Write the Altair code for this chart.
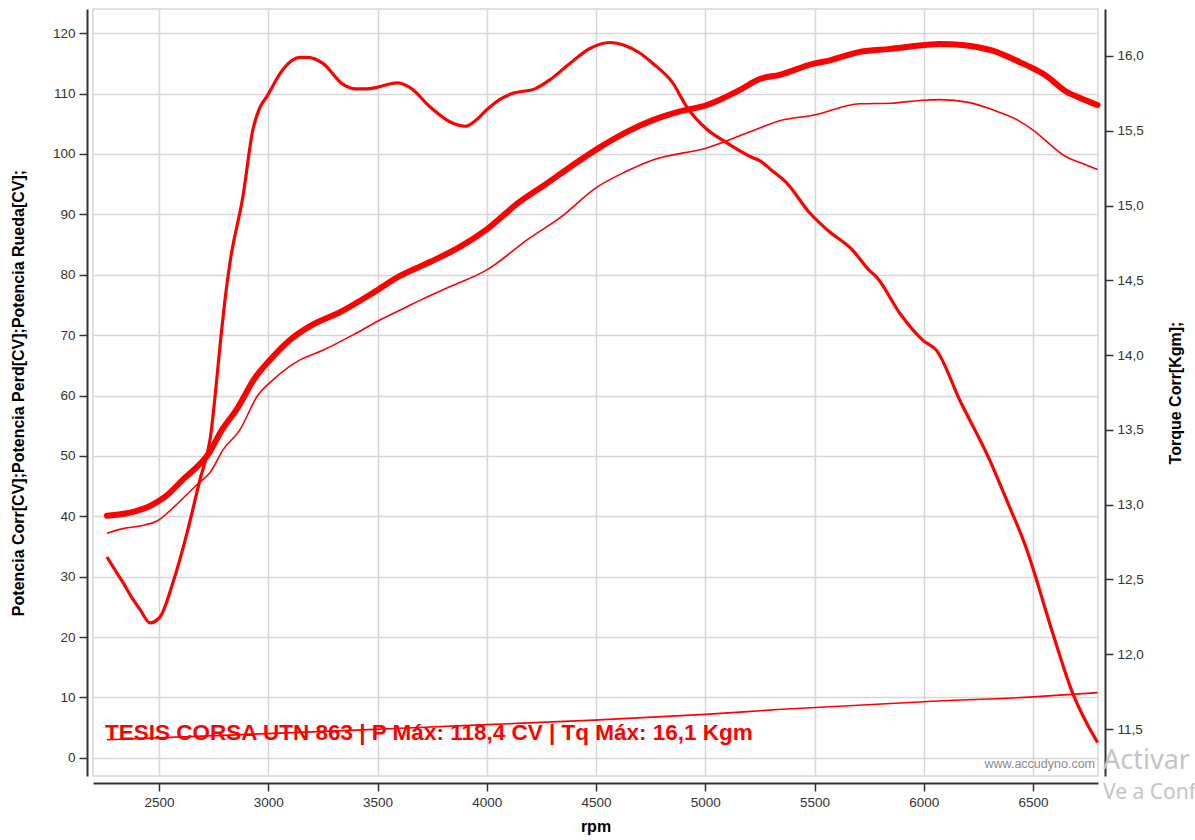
import altair as alt
import pandas as pd

# ---------------- data ----------------
rpm_corr = [2262, 2367, 2459, 2527, 2619, 2688, 2720, 2788, 2857, 2939, 3008, 3099, 3191, 3328,
            3488, 3602, 3740, 3877, 4000, 4151, 4266, 4380, 4504, 4632, 4760, 4880, 5007, 5158,
            5249, 5341, 5492, 5570, 5707, 5844, 5995, 6073, 6187, 6315, 6439, 6498, 6553, 6653,
            6720, 6795]
pot_corr = [40.1, 40.6, 41.7, 43.2, 46.4, 48.7, 50.0, 54.3, 57.8, 62.9, 65.9, 69.2, 71.5, 73.8,
            77.2, 79.8, 82.1, 84.6, 87.5, 92.1, 94.9, 97.8, 100.8, 103.5, 105.6, 107.0, 108.1, 110.6,
            112.4, 113.1, 114.9, 115.5, 116.9, 117.4, 118.0, 118.2, 118.0, 117.1, 115.2, 114.2, 113.1, 110.3,
            109.2, 108.1]

rpm_rueda = [2262, 2340, 2413, 2495, 2570, 2650, 2688, 2733, 2793, 2870, 2948, 3022, 3145, 3250,
             3406, 3511, 3635, 3708, 3831, 4000, 4197, 4334, 4504, 4632, 4760, 5007, 5249, 5341,
             5492, 5707, 5850, 5995, 6073, 6210, 6315, 6430, 6498, 6653, 6720, 6795]
pot_rueda = [37.2, 38.0, 38.4, 39.3, 41.6, 44.4, 45.7, 47.2, 51.0, 54.3, 59.8, 62.6, 65.9, 67.5,
             70.4, 72.5, 74.7, 76.0, 78.0, 80.8, 86.1, 89.4, 94.5, 97.0, 99.0, 101.0, 104.3, 105.5,
             106.4, 108.3, 108.4, 108.9, 109.0, 108.5, 107.3, 105.6, 104.0, 99.5, 98.5, 97.4]

rpm_perd = [2262, 2700, 3200, 3602, 4000, 4517, 5000, 5332, 6000, 6500, 6795]
pot_perd = [3.0, 3.6, 4.3, 4.9, 5.5, 6.3, 7.2, 8.0, 9.3, 10.1, 10.8]

rpm_torque = [2262, 2300, 2335, 2375, 2413, 2459, 2505, 2564, 2628, 2688, 2733, 2787, 2802, 2825,
              2884, 2930, 2960, 2994, 3067, 3145, 3180, 3250, 3342, 3400, 3451, 3497, 3589, 3648,
              3740, 3831, 3900, 3950, 4000, 4060, 4119, 4220, 4288, 4380, 4472, 4563, 4632, 4700,
              4760, 4851, 4915, 5007, 5098, 5217, 5249, 5300, 5373, 5478, 5556, 5675, 5748, 5785,
              5890, 5995, 6059, 6164, 6301, 6379, 6471, 6498, 6590, 6681, 6745, 6795]
torque = [12.65, 12.56, 12.48, 12.38, 12.30, 12.21, 12.25, 12.48, 12.81, 13.17, 13.43, 14.17, 14.37, 14.62,
          15.06, 15.51, 15.65, 15.73, 15.91, 15.99, 15.99, 15.95, 15.81, 15.78, 15.78, 15.79, 15.82, 15.79,
          15.66, 15.56, 15.53, 15.57, 15.64, 15.71, 15.75, 15.78, 15.84, 15.95, 16.05, 16.09, 16.07, 16.02,
          15.95, 15.82, 15.66, 15.51, 15.42, 15.32, 15.30, 15.24, 15.15, 14.95, 14.84, 14.70, 14.57, 14.52,
          14.28, 14.10, 14.03, 13.70, 13.30, 13.03, 12.70, 12.58, 12.14, 11.74, 11.54, 11.41]

x_ticks = [2500, 3000, 3500, 4000, 4500, 5000, 5500, 6000, 6500]
left_ticks = [0, 10, 20, 30, 40, 50, 60, 70, 80, 90, 100, 110, 120]
right_ticks = [11.5, 12.0, 12.5, 13.0, 13.5, 14.0, 14.5, 15.0, 15.5, 16.0]

annotation = ["TESIS CORSA UTN 863 | P Máx: 118,4 CV | Tq Máx: 16,1 Kgm"]
watermark = ["www.accudyno.com"]
activar = ["Activar"]
ve_a_conf = ["Ve a Conf"]

# ---------------- styling ----------------
FONT = "Liberation Sans"
RED = "#ff0000"
AXIS_COLOR = "#333333"

x_scale = alt.Scale(domain=[2198, 6797], nice=False, zero=False)
y_left_scale = alt.Scale(domain=[-3, 124], nice=False, zero=False)
y_right_scale = alt.Scale(domain=[11.186, 16.314], nice=False, zero=False)

common_axis = dict(
    domainColor=AXIS_COLOR, domainWidth=2, tickColor=AXIS_COLOR, tickWidth=1.5,
    labelColor=AXIS_COLOR, labelFont=FONT, labelFontSize=13.5,
    titleFont=FONT, titleFontSize=16, titleFontWeight="bold", titleColor="#000000",
    gridColor="#d6d6d6", gridWidth=1.5,
)

x_axis = alt.Axis(title="rpm", values=x_ticks, format="d", offset=7, tickSize=8,
                  labelPadding=4, titlePadding=10, **common_axis)
left_axis = alt.Axis(title="Potencia Corr[CV];Potencia Perd[CV];Potencia Rueda[CV];",
                     values=left_ticks, offset=6, tickSize=8, labelPadding=4,
                     titlePadding=26, **common_axis)
right_axis = alt.Axis(title="Torque Corr[Kgm];", orient="right", values=right_ticks,
                      labelExpr="replace(format(datum.value, '.1f'), '.', ',')",
                      offset=7, tickSize=8, labelPadding=4, grid=False,
                      titleAngle=270, titleBaseline="top", titlePadding=24, **common_axis)

df_corr = pd.DataFrame({"rpm": rpm_corr, "val": pot_corr})
df_rueda = pd.DataFrame({"rpm": rpm_rueda, "val": pot_rueda})
df_perd = pd.DataFrame({"rpm": rpm_perd, "val": pot_perd})
df_torque = pd.DataFrame({"rpm": rpm_torque, "val": torque})

X = alt.X("rpm:Q", scale=x_scale, axis=x_axis)
Y_left = alt.Y("val:Q", scale=y_left_scale, axis=left_axis)

corr = alt.Chart(df_corr).mark_line(color=RED, strokeWidth=6, strokeCap="round",
                                    interpolate="monotone").encode(x=X, y=Y_left)
rueda = alt.Chart(df_rueda).mark_line(color=RED, strokeWidth=1.6,
                                      interpolate="monotone").encode(x=X, y=Y_left)
perd = alt.Chart(df_perd).mark_line(color=RED, strokeWidth=1.6,
                                    interpolate="monotone").encode(x=X, y=Y_left)

txt = alt.Chart(pd.DataFrame({"t": annotation})).mark_text(
    color=RED, font=FONT, fontSize=22.5, fontWeight="bold", align="left", baseline="alphabetic"
).encode(x=alt.value(12), y=alt.value(731), text="t:N")

wm = alt.Chart(pd.DataFrame({"t": watermark})).mark_text(
    color="#8a8a8a", font=FONT, fontSize=12.5, align="right", baseline="alphabetic"
).encode(x=alt.value(1002), y=alt.value(759), text="t:N")

act = alt.Chart(pd.DataFrame({"t": activar})).mark_text(
    color="#c4c4c4", font="Noto Sans", fontSize=27, align="left", baseline="alphabetic"
).encode(x=alt.value(1010), y=alt.value(760), text="t:N")

conf = alt.Chart(pd.DataFrame({"t": ve_a_conf})).mark_text(
    color="#c4c4c4", font="Noto Sans", fontSize=21, align="left", baseline="alphabetic"
).encode(x=alt.value(1010), y=alt.value(790), text="t:N")

left_layer = alt.layer(corr, rueda, perd, txt, wm, act, conf)

torque_line = alt.Chart(df_torque).mark_line(color=RED, strokeWidth=3.2,
                                             interpolate="monotone").encode(
    x=X, y=alt.Y("val:Q", scale=y_right_scale, axis=right_axis))

chart = alt.layer(left_layer, torque_line).resolve_scale(y="independent").properties(
    width=1005, height=767,
    autosize=alt.AutoSizeParams(type="none"),
    padding={"left": 93, "top": 9, "right": 97, "bottom": 64},
    background="white",
).configure_view(stroke="#d6d6d6", strokeWidth=1.5)

chart.save("out.html", embed_options={"renderer": "svg", "actions": False})
